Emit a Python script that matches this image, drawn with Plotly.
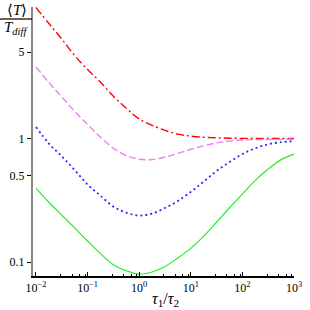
import plotly.graph_objects as go

# tau1/tau2 sample positions (quarter decades from 1e-2 to 1e3)
tau_ratio = [0.01, 0.0178, 0.0316, 0.0562, 0.1, 0.178, 0.316, 0.562, 1.0, 1.78,
             3.16, 5.62, 10.0, 17.8, 31.6, 56.2, 100.0, 178.0, 316.0, 562.0, 1000.0]

red_vals = [11.5, 8.53, 6.39, 4.70, 3.62, 2.86, 2.20, 1.76, 1.44, 1.28, 1.165,
            1.085, 1.045, 1.023, 1.013, 1.006, 1.003, 1.002, 1.001, 1.0, 1.0]
pink_vals = [3.79, 2.84, 2.17, 1.66, 1.30, 1.026, 0.833, 0.728, 0.680, 0.676, 0.708,
             0.756, 0.819, 0.873, 0.923, 0.953, 0.972, 0.980, 0.983, 0.985, 0.987]
blue_vals = [1.24, 0.911, 0.718, 0.556, 0.424, 0.344, 0.281, 0.251, 0.238, 0.247, 0.274,
             0.312, 0.370, 0.448, 0.546, 0.645, 0.749, 0.834, 0.899, 0.934, 0.954]
green_vals = [0.395, 0.305, 0.240, 0.189, 0.148, 0.117, 0.0951, 0.0851, 0.0797, 0.0830,
              0.0920, 0.108, 0.129, 0.162, 0.210, 0.275, 0.355, 0.458, 0.566, 0.675, 0.749]

x_tickvals = [0.01, 0.1, 1, 10, 100, 1000]
x_ticktext = ["10<sup>\u22122</sup>", "10<sup>\u22121</sup>", "10<sup>0</sup>",
              "10<sup>1</sup>", "10<sup>2</sup>", "10<sup>3</sup>"]
x_minor = [m * d for d in [0.01, 0.1, 1, 10, 100] for m in (3, 5, 7, 9)]
y_tickvals = [0.1, 0.5, 1, 5]
y_ticktext = ["0.1", "0.5", "1", "5"]

FONT = "Liberation Serif"
W, H = 310, 310
ML, MR, MT, MB = 33, 16, 7, 34
PH = H - MT - MB
PW = W - ML - MR


def px_x(px):
    return (px - ML) / PW


def px_y(py):
    return (H - MB - py) / PH


fig = go.Figure()
series = [
    (red_vals, "#ff0000", "8px,3px,2px,3px", 1.4),
    (pink_vals, "#ee82ee", "7px,3px", 1.4),
    (blue_vals, "#2b2bff", "2px,3px", 1.8),
    (green_vals, "#22ee22", "solid", 1.2),
]
for vals, col, dash, w in series:
    fig.add_trace(go.Scatter(x=tau_ratio, y=vals, mode="lines",
                             line=dict(color=col, dash=dash, width=w, shape="spline",
                                       smoothing=1.0),
                             showlegend=False, hoverinfo="skip", cliponaxis=False))

fig.update_layout(
    width=W, height=H,
    margin=dict(l=ML, r=MR, t=MT, b=MB, autoexpand=False),
    paper_bgcolor="white", plot_bgcolor="white",
    font=dict(family=FONT, color="black", size=11),
    xaxis=dict(type="log", range=[-2.058, 3], showgrid=False, zeroline=False,
               showline=True, linecolor="black", linewidth=1.5,
               tickmode="array", tickvals=x_tickvals, ticktext=x_ticktext,
               ticks="inside", ticklen=4, tickcolor="black",
               minor=dict(tickmode="array", tickvals=x_minor, ticks="inside",
                          ticklen=2, tickcolor="black"),
               tickfont=dict(family=FONT, size=12)),
    yaxis=dict(type="log", range=[-1.113, 1.065], showgrid=False, zeroline=False,
               showline=True, linecolor="#888888", linewidth=2,
               tickmode="array", tickvals=y_tickvals, ticktext=y_ticktext,
               ticks="outside", ticklen=4, tickcolor="black",
               tickfont=dict(family=FONT, size=12)),
)

# y-axis label as a fraction in the top-left corner
fig.add_annotation(xref="paper", yref="paper", x=px_x(17), y=px_y(10), xanchor="center",
                   yanchor="middle", text="\u27e8<i>T</i>\u27e9", showarrow=False,
                   font=dict(family=FONT, size=15))
fig.add_shape(type="line", xref="paper", yref="paper", x0=px_x(0), x1=px_x(32),
              y0=px_y(19), y1=px_y(19), line=dict(color="black", width=1.2))
fig.add_annotation(xref="paper", yref="paper", x=px_x(16), y=px_y(28), xanchor="center",
                   yanchor="middle", text="<i>T<sub>diff</sub></i>", showarrow=False,
                   font=dict(family=FONT, size=15))
# x-axis title
fig.add_annotation(xref="paper", yref="paper", x=px_x(165), y=px_y(299), xanchor="center",
                   yanchor="middle",
                   text="<i>\u03c4</i><sub>1</sub>/<i>\u03c4</i><sub>2</sub>", showarrow=False,
                   font=dict(family=FONT, size=16))

fig.write_html("out.html", config={"displayModeBar": False},
               post_script="document.body.style.margin='0';document.body.style.padding='0';")
